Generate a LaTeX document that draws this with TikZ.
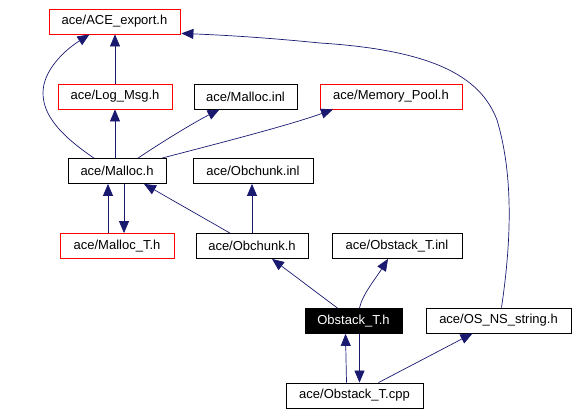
\documentclass[tikz,border=0pt]{standalone}
\usepackage{fontspec}
\setmainfont{Liberation Sans}
\usetikzlibrary{arrows.meta}
\definecolor{edgecol}{HTML}{191970}
\tikzset{
  box/.style={draw=black, line width=0.8pt, minimum height=25pt, inner sep=0pt, font=\fontsize{13}{15}\selectfont, anchor=center},
  redbox/.style={box, draw=red},
  curbox/.style={box, fill=black, text=white},
  dep/.style={draw=edgecol, line width=0.7pt, -{Triangle[length=12pt,width=10pt]}}
}
\begin{document}
\begin{tikzpicture}[x=1pt,y=-1pt]
\useasboundingbox (0,0) rectangle (578,415);
\node[redbox, minimum width=131pt] (export) at (114.5,21.5) {ace/ACE\_export.h};
\node[redbox, minimum width=114pt] (logmsg) at (115,96.5) {ace/Log\_Msg.h};
\node[box, minimum width=103pt] (mallocinl) at (245.5,96.5) {ace/Malloc.inl};
\node[redbox, minimum width=142pt] (mempool) at (391,96.5) {ace/Memory\_Pool.h};
\node[box, minimum width=98pt] (malloch) at (117,171) {ace/Malloc.h};
\node[box, minimum width=120pt] (obchunkinl) at (253,171) {ace/Obchunk.inl};
\node[redbox, minimum width=114pt] (malloct) at (117,246) {ace/Malloc\_T.h};
\node[box, minimum width=112pt] (obchunkh) at (252,246) {ace/Obchunk.h};
\node[box, minimum width=130pt] (obstinl) at (397,246) {ace/Obstack\_T.inl};
\node[curbox, minimum width=97pt] (obsth) at (353.5,321) {Obstack\_T.h};
\node[box, minimum width=145pt] (osns) at (498.5,320.5) {ace/OS\_NS\_string.h};
\node[box, minimum width=137pt] (obstcpp) at (354.5,395.5) {ace/Obstack\_T.cpp};

% edges
\draw[dep] ([xshift=-23pt]malloch.north) .. controls (60,135) and (43,115) .. (43,93) .. controls (43,70) and (65,50) .. ([xshift=-25pt]export.south);
\draw[dep] (logmsg.north) -- ([xshift=0.5pt]export.south);
\draw[dep] ([xshift=-2pt]malloch.north) -- (logmsg.south);
\draw[dep] ([xshift=21pt]malloch.north) .. controls (165,140) and (195,122) .. ([xshift=-26pt]mallocinl.south);
\draw[dep] ([xshift=45pt]malloch.north) .. controls (220,143) and (290,125) .. ([xshift=-58pt]mempool.south);
\draw[dep] ([xshift=3pt]osns.north) .. controls (510,250) and (515,180) .. (497,120) .. controls (480,75) and (430,50) .. (320,43) .. controls (260,37) and (220,35) .. ([xshift=1pt,yshift=1pt]export.south east);
\draw[dep] ([xshift=-9pt]malloct.north) -- ([xshift=-9pt]malloch.south);
\draw[dep] ([xshift=7pt]malloch.south) -- ([xshift=7pt]malloct.north);
\draw[dep] ([xshift=-22pt]obchunkh.north) -- ([xshift=27pt]malloch.south);
\draw[dep] (obchunkh.north) -- (obchunkh.north |- obchunkinl.south);
\draw[dep] ([xshift=-16pt]obsth.north) -- ([xshift=20pt]obchunkh.south);
\draw[dep] ([xshift=6pt]obsth.north) .. controls (362,295) and (376,278) .. ([xshift=-9pt]obstinl.south);
\draw[dep] ([xshift=-8pt]obstcpp.north) -- ([xshift=-8pt]obsth.south);
\draw[dep] ([xshift=6pt]obsth.south) -- ([xshift=5pt]obstcpp.north);
\draw[dep] ([xshift=24pt]obstcpp.north) -- ([xshift=-26pt]osns.south);
\end{tikzpicture}
\end{document}
